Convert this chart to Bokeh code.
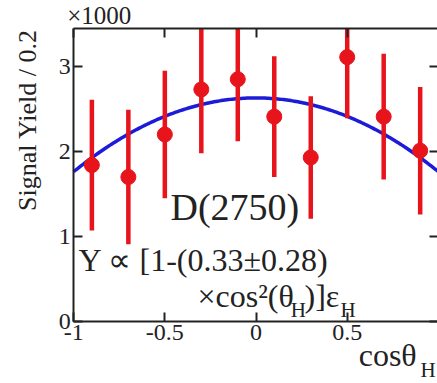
import numpy as np
from bokeh.plotting import figure
from bokeh.models import Range1d, LinearAxis, Label, FixedTicker, ColumnDataSource
from bokeh.embed import file_html
from bokeh.resources import INLINE

# Signal yield per cos(theta_H) bin (units of 1000 events per 0.2)
cos_bins = [-0.9, -0.7, -0.5, -0.3, -0.1, 0.1, 0.3, 0.5, 0.7, 0.9]
signal_yield = [1.84, 1.70, 2.20, 2.73, 2.85, 2.41, 1.93, 3.11, 2.41, 2.01]
yield_err = [0.77, 0.79, 0.75, 0.75, 0.73, 0.71, 0.72, 0.72, 0.74, 0.75]

# Fit: Y ∝ [1 - a cos^2(theta_H)]
fit_norm = 2.63
fit_a = 0.33

x_ticks = [-1, -0.5, 0, 0.5, 1]
x_tick_text = ["-1", "-0.5", "0", "0.5", "1"]
y_ticks = [0, 1, 2, 3]

# box drawn by the four axes; the canvas around it holds the titles
X_MIN, X_MAX = -1.0, 1.0
Y_MIN, Y_MAX = 0.0, 3.45

FONT = "Liberation Serif"
INK = "#222222"
RED = "#e8141c"
BLUE = "#1c1cd8"

p = figure(width=437, height=383,
           x_range=Range1d(-1.401, 0.995), y_range=Range1d(-0.729, 3.776),
           output_backend="svg", toolbar_location=None,
           min_border=0, min_border_left=0, min_border_right=0,
           min_border_top=0, min_border_bottom=0)
p.grid.visible = False
p.outline_line_color = None
p.background_fill_color = "white"
p.border_fill_color = "white"


def style_axis(ax, labels=True):
    ax.axis_line_color = "#222222"
    ax.axis_line_width = 2
    ax.major_tick_in = 9
    ax.major_tick_out = 0
    ax.major_tick_line_width = 2
    ax.major_tick_line_color = "#222222"
    ax.minor_tick_in = 0
    ax.minor_tick_out = 0
    ax.major_label_text_font = FONT
    ax.major_label_text_font_size = "24px"
    ax.major_label_standoff = 3
    ax.major_label_text_color = INK if labels else None


p.xaxis.ticker = FixedTicker(ticks=x_ticks)
p.xaxis.major_label_overrides = dict(zip(x_ticks, x_tick_text))
p.xaxis.fixed_location = Y_MIN
p.xaxis.bounds = (X_MIN, X_MAX)
p.yaxis.ticker = FixedTicker(ticks=y_ticks)
p.yaxis.fixed_location = X_MIN
p.yaxis.bounds = (Y_MIN, Y_MAX)
style_axis(p.xaxis[0])
style_axis(p.yaxis[0])

top_axis = LinearAxis(ticker=FixedTicker(ticks=x_ticks),
                      fixed_location=Y_MAX, bounds=(X_MIN, X_MAX))
right_axis = LinearAxis(ticker=FixedTicker(ticks=y_ticks),
                        fixed_location=X_MAX, bounds=(Y_MIN, Y_MAX))
style_axis(top_axis, labels=False)
style_axis(right_axis, labels=False)
p.add_layout(top_axis, "above")
p.add_layout(right_axis, "right")

# fitted curve
xs = np.linspace(X_MIN, X_MAX, 201)
p.line(xs, fit_norm * (1 - fit_a * xs ** 2), line_color=BLUE, line_width=3.5)

# data points with error bars (bars end at the top of the box)
src = ColumnDataSource(dict(
    x=cos_bins, y=signal_yield,
    lo=[v - e for v, e in zip(signal_yield, yield_err)],
    hi=[min(v + e, Y_MAX) for v, e in zip(signal_yield, yield_err)],
))
p.segment(x0="x", y0="lo", x1="x", y1="hi", source=src,
          line_color=RED, line_width=4.5)
p.scatter(x="x", y="y", source=src, size=15, marker="circle",
          fill_color=RED, line_color=RED)


def add_text(x, y, text, size, **kw):
    p.add_layout(Label(x=x, y=y, text=text, text_font=FONT,
                       text_font_size=size, text_color=INK,
                       text_baseline=kw.pop("baseline", "alphabetic"),
                       text_align=kw.pop("align", "left"), **kw))


add_text(-0.469, 1.352, "D(2750)", "38px")
add_text(-0.973, 0.729, "Y \u221d [1-(0.33\u00b10.28)", "32px")
add_text(-0.321, 0.306, "\u00d7cos\u00b2(\u03b8", "32px")
add_text(0.190, 0.140, "H", "21px")
add_text(0.266, 0.306, ")]\u03b5", "32px")
add_text(0.463, 0.140, "H", "21px")

# axis titles and multiplier
add_text(-1.035, 3.60, "\u00d71000", "25px")
add_text(0.563, -0.388, "cos\u03b8", "32px")
add_text(0.902, -0.565, "H", "21px")
add_text(-1.253, 2.37, "Signal Yield / 0.2", "26px",
         angle=np.pi / 2, align="center", baseline="middle")

open("out.html", "w").write(file_html(p, INLINE))
